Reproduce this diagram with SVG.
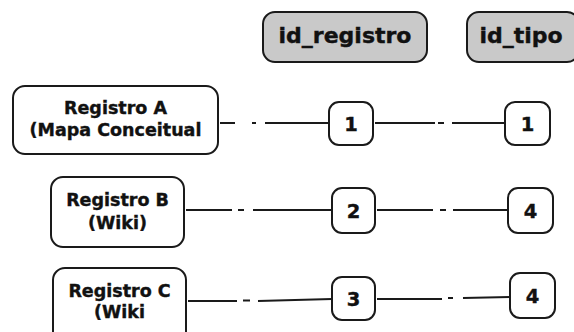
<svg xmlns="http://www.w3.org/2000/svg" width="574" height="332" viewBox="0 0 574 332">
  <style>
    .box { fill: #ffffff; stroke: #1a1a1a; stroke-width: 2; }
    .head { fill: #c9c9c9; stroke: #1a1a1a; stroke-width: 2; }
    .lbl { font-family: "DejaVu Sans", Verdana, sans-serif; font-weight: bold; fill: #111111; stroke: #111111; stroke-width: 0.4; text-anchor: middle; }
    .hd { font-size: 22px; }
    .nm { font-size: 17.5px; }
    .num { font-size: 19.5px; }
    .link { fill: none; stroke: #1a1a1a; stroke-width: 2; }
  </style>
  <rect width="574" height="332" fill="#ffffff"/>

  <!-- column headers -->
  <g id="hdr-id_registro">
    <rect class="head" x="263" y="12" width="164" height="50" rx="12"/>
    <text class="lbl hd" x="345" y="43">id_registro</text>
  </g>
  <g id="hdr-id_tipo">
    <rect class="head" x="467" y="12" width="112" height="50" rx="12"/>
    <text class="lbl hd" x="521" y="43">id_tipo</text>
  </g>

  <!-- record nodes -->
  <g id="reg-a">
    <rect class="box" x="13" y="86" width="205" height="68" rx="12"/>
    <text class="lbl nm" x="115.5" y="114">Registro A</text>
    <text class="lbl nm" x="115.5" y="136">(Mapa Conceitual</text>
  </g>
  <g id="reg-b">
    <rect class="box" x="51" y="177" width="133" height="70" rx="12"/>
    <text class="lbl nm" x="117.5" y="206">Registro B</text>
    <text class="lbl nm" x="117.5" y="229">(Wiki)</text>
  </g>
  <g id="reg-c">
    <rect class="box" x="53" y="268" width="133" height="80" rx="12"/>
    <text class="lbl nm" x="119.5" y="297">Registro C</text>
    <text class="lbl nm" x="119.5" y="318">(Wiki</text>
  </g>

  <!-- id_registro values -->
  <g id="idr-1">
    <rect class="box" x="329" y="102" width="44" height="43" rx="10"/>
    <text class="lbl num" x="351" y="131">1</text>
  </g>
  <g id="idr-2">
    <rect class="box" x="332" y="188" width="43" height="45" rx="10"/>
    <text class="lbl num" x="353.5" y="218">2</text>
  </g>
  <g id="idr-3">
    <rect class="box" x="332" y="277" width="43" height="43" rx="10"/>
    <text class="lbl num" x="353.5" y="306">3</text>
  </g>

  <!-- id_tipo values -->
  <g id="idt-1">
    <rect class="box" x="505" y="102" width="45" height="43" rx="10"/>
    <text class="lbl num" x="527.5" y="131">1</text>
  </g>
  <g id="idt-4a">
    <rect class="box" x="508" y="188" width="45" height="45" rx="10"/>
    <text class="lbl num" x="530.5" y="218">4</text>
  </g>
  <g id="idt-4b">
    <rect class="box" x="510" y="273" width="45" height="45" rx="10"/>
    <text class="lbl num" x="532.5" y="303">4</text>
  </g>

  <!-- connectors -->
  <g id="connectors">
    <path class="link" d="M220 123 H235 M252 123 H256 M265 123 H329"/>
    <path class="link" d="M375 123 H435 M438 123 H444 M452 123 H505"/>
    <path class="link" d="M186 210 H232 M238 210 H244 M253 210 H332"/>
    <path class="link" d="M377 210 H433 M440 210 H446 M453 210 H508"/>
    <path class="link" d="M188 301 H237 M243 300.5 H250 M258 301 L332 299"/>
    <path class="link" d="M377 299 H442 M448 298 H453 M463 298 L510 297"/>
  </g>
</svg>
